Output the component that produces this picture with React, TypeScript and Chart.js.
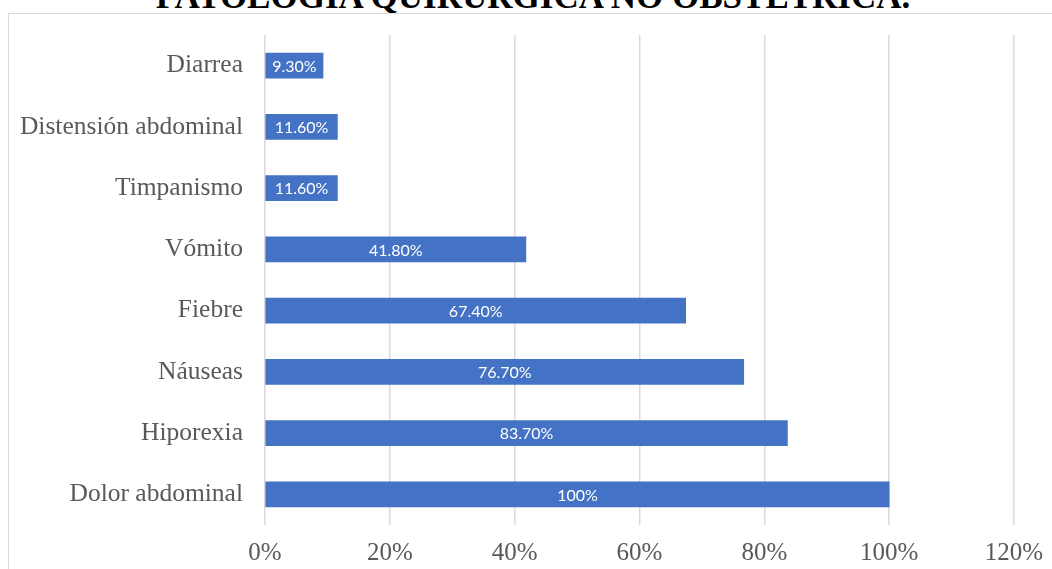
import React, { useEffect, useRef } from "react";
import { Chart, registerables } from "chart.js";

Chart.register(...registerables);

const categories = [
  "Diarrea",
  "Distensión abdominal",
  "Timpanismo",
  "Vómito",
  "Fiebre",
  "Náuseas",
  "Hiporexia",
  "Dolor abdominal",
];
const values = [9.3, 11.6, 11.6, 41.8, 67.4, 76.7, 83.7, 100];
const valueLabels = ["9.30%", "11.60%", "11.60%", "41.80%", "67.40%", "76.70%", "83.70%", "100%"];
const titleText = "PATOLOGÍA QUIRÚRGICA NO OBSTÉTRICA.";

const barLabelPlugin = {
  id: "barLabels",
  afterDatasetsDraw(chart: any) {
    const ctx = chart.ctx;
    const meta = chart.getDatasetMeta(0);
    ctx.save();
    ctx.fillStyle = "#ffffff";
    ctx.font = "16px Lato";
    ctx.textAlign = "center";
    ctx.textBaseline = "middle";
    meta.data.forEach((bar: any, i: number) => {
      const cx = (bar.x + bar.base) / 2;
      ctx.fillText(valueLabels[i], cx, bar.y + 1);
    });
    ctx.restore();
  },
};

export default function App() {
  const ref = useRef<HTMLCanvasElement | null>(null);
  useEffect(() => {
    if (!ref.current) return;
    const chart = new Chart(ref.current, {
      type: "bar",
      data: {
        labels: categories,
        datasets: [
          {
            data: values,
            backgroundColor: "#4472C4",
            barThickness: 25,
          },
        ],
      },
      options: {
        indexAxis: "y",
        animation: false,
        responsive: false,
        maintainAspectRatio: false,
        layout: { padding: { left: 0, right: 38, top: 35, bottom: 0 } },
        plugins: {
          legend: { display: false },
          tooltip: { enabled: false },
          title: { display: false },
        },
        scales: {
          x: {
            min: 0,
            max: 120,
            ticks: {
              stepSize: 20,
              callback: (v: any) => v + "%",
              color: "#595959",
              font: { family: "Liberation Serif", size: 25 },
              padding: 13,
            },
            grid: { color: "#d9d9d9", lineWidth: 1.5, drawTicks: false },
            border: { display: false },
            afterFit: (s: any) => {
              s.height = 44;
              s.paddingLeft = 0;
              s.paddingRight = 0;
            },
          },
          y: {
            ticks: {
              color: "#595959",
              font: { family: "Liberation Serif", size: 25.5 },
              padding: 22,
            },
            grid: { display: false, drawTicks: false },
            border: { display: false },
            afterFit: (s: any) => {
              s.width = 265;
              s.paddingTop = 0;
              s.paddingBottom = 0;
            },
          },
        },
      },
      plugins: [barLabelPlugin],
    });
    return () => chart.destroy();
  }, []);

  return (
    <div style={{ position: "fixed", left: 0, top: 0, width: 1052, height: 569, overflow: "hidden", background: "#fff" }}>
      <div
        style={{
          position: "absolute",
          left: 8,
          top: 13,
          width: 1100,
          height: 600,
          border: "1.5px solid #d9d9d9",
          boxSizing: "border-box",
        }}
      />
      <div
        style={{
          position: "absolute",
          left: 7,
          top: -21,
          width: 1052,
          textAlign: "center",
          fontFamily: "'Liberation Serif'",
          fontWeight: "bold",
          fontSize: 35,
          lineHeight: "35px",
          color: "#000",
          whiteSpace: "nowrap",
        }}
      >
        {titleText}
      </div>
      <canvas ref={ref} width={1052} height={569} style={{ position: "absolute", left: 0, top: 0, width: 1052, height: 569 }} />
    </div>
  );
}
